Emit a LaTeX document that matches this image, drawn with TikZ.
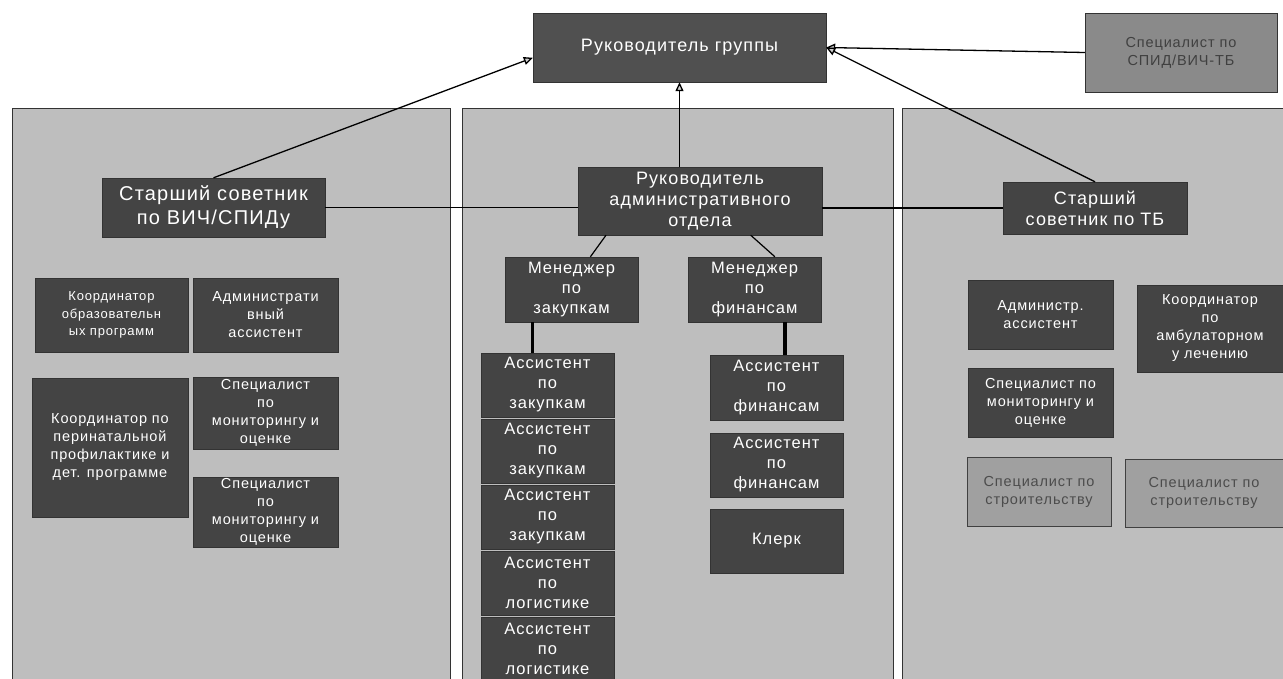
\documentclass[tikz,border=0pt]{standalone}
\usepackage{fontspec}
\setmainfont[LetterSpace=6]{Liberation Sans}
\usetikzlibrary{arrows.meta}
\definecolor{panelgray}{HTML}{BEBEBE}
\definecolor{cellgray}{HTML}{444444}
\definecolor{leadgray}{HTML}{505050}
\definecolor{palegray}{HTML}{A0A0A0}
\definecolor{specgray}{HTML}{8A8A8A}
\tikzset{
  cell/.style={fill=cellgray, draw=black!80, text=white, align=center, inner sep=1pt},
  pale/.style={fill=palegray, draw=black!75, text=black!70, align=center, inner sep=1pt},
  dims/.style 2 args={minimum width=#1pt, minimum height=#2pt},
  fXL/.style={font=\fontsize{20}{24}\selectfont},
  fL/.style={font=\fontsize{18}{21}\selectfont},
  fM/.style={font=\fontsize{16.5}{20}\selectfont},
  fS/.style={font=\fontsize{14.5}{18}\selectfont},
  fXS/.style={font=\fontsize{13}{17.5}\selectfont},
  arr/.style={-{Triangle[length=9pt,width=8pt,fill=gray!40]}, line width=1.3pt},
  link/.style={line width=1.2pt}
}
\begin{document}
\begin{tikzpicture}[x=1pt,y=-1pt]
	    \useasboundingbox (0,0) rectangle (1283,678);
	    \fill[white] (0,0) rectangle (1283,678);

	    \filldraw[fill=panelgray, draw=black!80, line width=1pt] (12,108) rectangle (450,690);
	    \filldraw[fill=panelgray, draw=black!80, line width=1pt] (462,108) rectangle (893,690);
	    \filldraw[fill=panelgray, draw=black!80, line width=1pt] (902,108) rectangle (1295,690);

	    \node[cell, fill=leadgray, fL, dims={293}{69}] (lead) at (679.5,47.5) {Руководитель группы};
	    \node[cell, fill=specgray, text=black!75, fS, dims={192}{79}] (spec) at (1181,52.5) {Специалист по\\СПИД/ВИЧ-ТБ};

	    \node[cell, fXL, dims={223}{59}] (hiv) at (213.5,207.5) {Старший советник\\по ВИЧ/СПИДу};
	    \node[cell, fL, dims={244}{68}] (adm) at (700,201) {Руководитель\\административного\\отдела};
	    \node[cell, fL, dims={184}{52}] (tb) at (1095,208) {Старший\\советник по ТБ};

	    \node[cell, fXS, dims={153}{74}] (edu) at (111.5,315) {Координатор\\образовательн\\ых программ};
	    \node[cell, fS, dims={145}{74}] (aas) at (265.5,315) {Администрати\\вный\\ассистент};
	    \node[cell, fS, dims={156}{139}] (pmtct) at (110,447.5) {Координатор по\\перинатальной\\профилактике и\\дет. программе};
	    \node[cell, fS, dims={145}{72}] (me1) at (265.5,413) {Специалист\\по\\мониторингу и\\оценке};
	    \node[cell, fS, dims={145}{70}] (me2) at (265.5,512) {Специалист\\по\\мониторингу и\\оценке};

	    \node[cell, fM, dims={133}{65}] (pm) at (571.5,289.5) {Менеджер\\по\\закупкам};
	    \node[cell, fM, dims={133}{65}] (fm) at (754.5,289.5) {Менеджер\\по\\финансам};
	    \foreach \t [count=\i] in {закупкам,закупкам,закупкам,логистике,логистике}
		\node[cell, fM, dims={133}{64}] (pa\i) at (547.5,{385+66*(\i-1)}) {Ассистент\\по\\\t};
	    \node[cell, fM, dims={133}{65}] (fa1) at (776.5,387.5) {Ассистент\\по\\финансам};
	    \node[cell, fM, dims={133}{64}] (fa2) at (776.5,465) {Ассистент\\по\\финансам};
	    \node[cell, fM, dims={133}{64}] (clerk) at (776.5,541) {Клерк};

	    \node[cell, fS, dims={145}{69}] (tbadm) at (1040.5,314.5) {Администр.\\ассистент};
	    \node[cell, fS, dims={146}{87}] (amb) at (1210,328.5) {Координатор\\по\\амбулаторном\\у лечению};
	    \node[cell, fS, dims={145}{69}] (tbme) at (1040.5,402.5) {Специалист по\\мониторингу и\\оценке};
	    \node[pale, fS, dims={144}{69}] (build1) at (1039,491.5) {Специалист по\\строительству};
	    \node[pale, fS, dims={158}{68}] (build2) at (1204,493) {Специалист по\\строительству};

	    \draw[arr] (spec.west) -- (lead.east);
	    \draw[arr] (tb.north) -- (lead.east);
	    \draw[arr] (hiv.north) -- (lead.184);
	    \draw[arr] (lead.south|-adm.north) -- (lead.south);

	    \draw[link] (hiv.east) -- (hiv.east-|adm.west);
	    \draw[link] (adm.east|-tb.west) -- (tb.west);
	    \draw[link] (adm.200) -- (pm.60);
	    \draw[link] (adm.326) -- (fm.58);
	    \draw[line width=3.5pt] (pm.220) -- (pm.220|-pa1.north);
	    \draw[line width=3.5pt] (fm.313) -- (fm.313|-fa1.north);
	\end{tikzpicture}
\end{document}
